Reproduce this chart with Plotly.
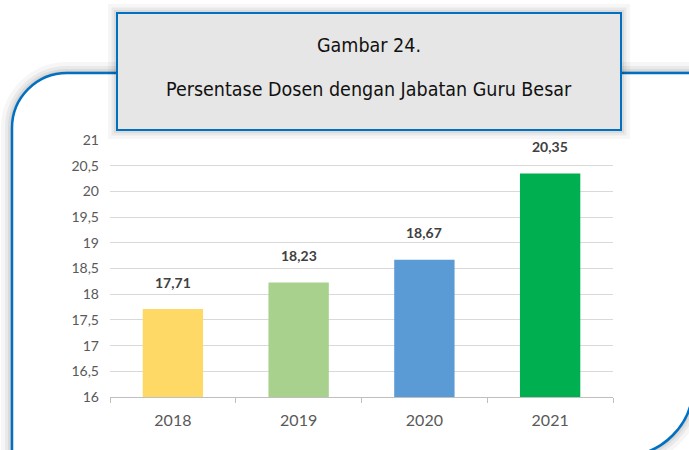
import plotly.graph_objects as go

years = ["2018", "2019", "2020", "2021"]
values = [17.71, 18.23, 18.67, 20.35]
bar_colors = ["#FFD966", "#A9D18E", "#5B9BD5", "#00B050"]
title_line1 = "Gambar 24."
title_line2 = "Persentase Dosen dengan Jabatan Guru Besar"

W, H = 689, 450
L, R, T, B = 110, 76, 140, 53
PW, PH = W - L - R, H - T - B


def px(x):
    return (x - L) / PW


def py(y):
    return (H - B - y) / PH


def path(points_cmds):
    out = []
    for cmd, pts in points_cmds:
        if cmd == "L":
            for a, b in pts:
                out.append(f"L{px(a):.5f},{py(b):.5f}")
        else:
            out.append(cmd + " ".join(f"{px(a):.5f},{py(b):.5f}" for a, b in pts))
    return " ".join(out) + " Z"


k = 0.5523
r1 = 55
r2 = 70
xl, yt = 12, 73
xr, yb = 693, 456
big = path([
    ("M", [(xl, yb + 10)]),
    ("L", [(xl, yt + r1)]),
    ("C", [(xl, yt + r1 - k * r1), (xl + r1 - k * r1, yt), (xl + r1, yt)]),
    ("L", [(xr, yt)]),
    ("L", [(xr, yb - r2)]),
    ("C", [(xr, yb - r2 + k * r2), (xr - r2 + k * r2, yb), (xr - r2, yb)]),
    ("L", [(xl + 40, yb + 10)]),
])

bx0, by0, bx1, by1 = 117, 13, 621, 130
box = path([("M", [(bx0, by0)]), ("L", [(bx1, by0), (bx1, by1), (bx0, by1)])])

shapes = []
for w, a in [(22, 0.035), (14, 0.05), (8, 0.06), (4, 0.07)]:
    shapes.append(dict(type="path", path=big, xref="paper", yref="paper",
                       line=dict(color=f"rgba(0,0,0,{a})", width=w),
                       fillcolor="rgba(0,0,0,0)", layer="below"))
shapes.append(dict(type="path", path=big, xref="paper", yref="paper",
                   line=dict(color="#0070C0", width=2.5), fillcolor="white", layer="below"))
for w, a in [(18, 0.035), (11, 0.05), (6, 0.06)]:
    shapes.append(dict(type="path", path=box, xref="paper", yref="paper",
                       line=dict(color=f"rgba(0,0,0,{a})", width=w),
                       fillcolor="rgba(0,0,0,0)", layer="below"))
shapes.append(dict(type="path", path=box, xref="paper", yref="paper",
                   line=dict(color="#0070C0", width=2), fillcolor="#E7E6E6", layer="below"))

fig = go.Figure(go.Bar(x=years, y=values, marker=dict(color=bar_colors, line=dict(width=0)),
                       width=0.48, hoverinfo="skip"))

annotations = []
for i, v in enumerate(values):
    annotations.append(dict(x=i, y=v, xref="x", yref="y", text=f"<b>{v:.2f}</b>".replace(".", ","),
                            showarrow=False, yshift=27,
                            font=dict(family="Lato, DejaVu Sans", size=14, color="#404040")))
title_font = dict(family="DejaVu Sans Condensed, Liberation Sans Narrow, DejaVu Sans", size=19.5, color="#111111")
annotations.append(dict(xref="paper", yref="paper", x=px((bx0 + bx1) / 2), y=py(45), text=title_line1,
                        showarrow=False, font=title_font, xanchor="center", yanchor="middle"))
annotations.append(dict(xref="paper", yref="paper", x=px((bx0 + bx1) / 2), y=py(89), text=title_line2,
                        showarrow=False, font=title_font, xanchor="center", yanchor="middle"))

fig.update_layout(
    width=W, height=H,
    margin=dict(l=L, r=R, t=T, b=B, autoexpand=False),
    paper_bgcolor="white", plot_bgcolor="rgba(0,0,0,0)",
    separators=",.",
    showlegend=False,
    shapes=shapes, annotations=annotations,
    xaxis=dict(type="category", range=[-0.5, 3.5], autorange=False, showgrid=False, showline=True,
               linecolor="#BFBFBF", linewidth=1,
               ticks="outside", tickson="boundaries", ticklen=5, tickcolor="#BFBFBF", tickangle=0,
               tickfont=dict(family="Lato, DejaVu Sans", size=16, color="#595959"),
               ticklabelstandoff=9, fixedrange=True, automargin=False),
    yaxis=dict(range=[16, 21], autorange=False, dtick=0.5, tick0=16, showgrid=True, gridcolor="#D9D9D9",
               gridwidth=1, zeroline=False, showline=False, ticks="",
               tickfont=dict(family="Lato, DejaVu Sans", size=14, color="#595959"),
               ticklabelstandoff=10, fixedrange=True, automargin=False),
)

fig.write_html("out.html", config={"displayModeBar": False},
               post_script="document.body.style.margin='0';document.body.style.overflow='hidden';")
